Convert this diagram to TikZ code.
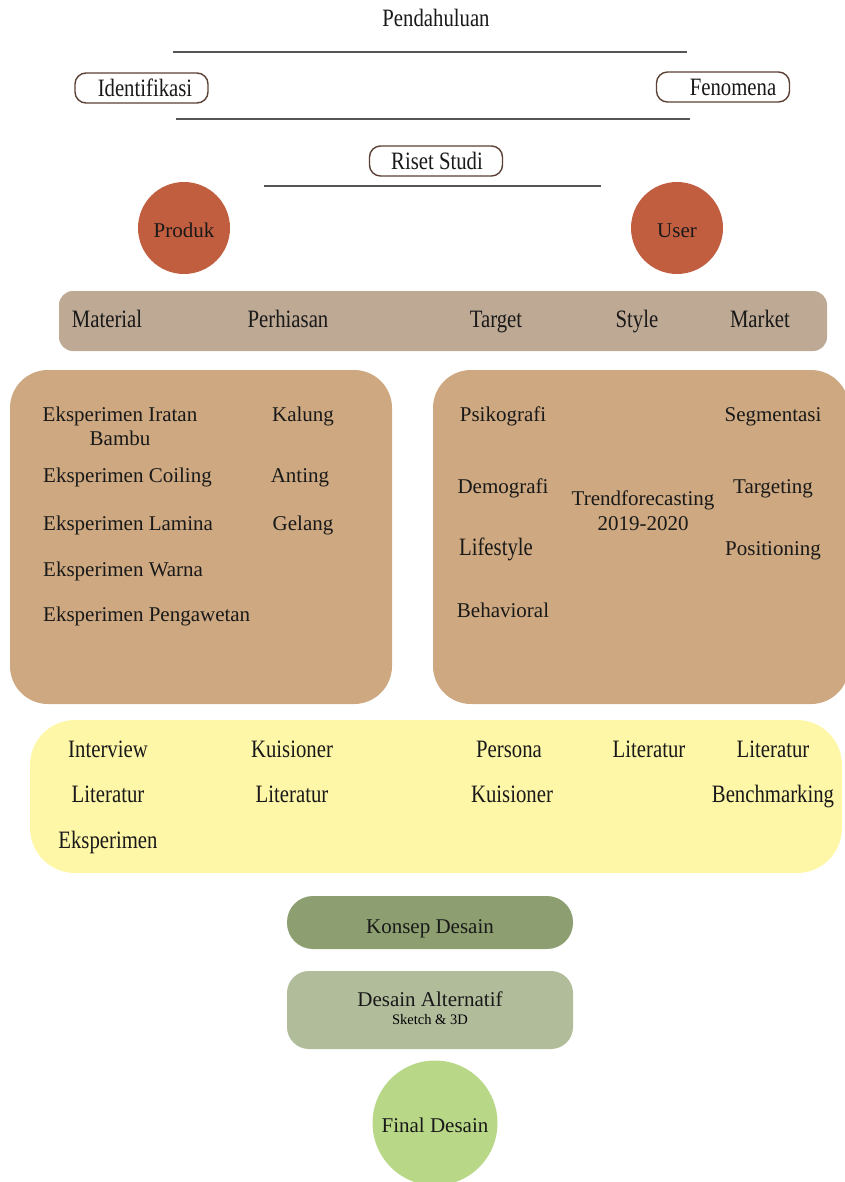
\documentclass[tikz,border=0pt]{standalone}
\usepackage{fontspec}
\setmainfont{Liberation Serif}
\newfontfamily\condfont[FakeStretch=0.83]{Liberation Serif}
\definecolor{lineGray}{HTML}{555555}
\definecolor{boxBorder}{HTML}{5B4035}
\definecolor{terra}{HTML}{C15E40}
\definecolor{taupe}{HTML}{BDA994}
\definecolor{tan}{HTML}{CDA880}
\definecolor{paleYellow}{HTML}{FFF7A8}
\definecolor{oliveDark}{HTML}{8D9F70}
\definecolor{oliveLight}{HTML}{B1BC9B}
\definecolor{limeGreen}{HTML}{B8D888}
\tikzset{
  sepline/.style={draw=lineGray, line width=2pt},
  tagbox/.style={draw=boxBorder, line width=1.4pt, rounded corners=11pt, fill=white,
    minimum width=133pt, minimum height=30pt, inner sep=0pt},
  ctext/.style={font=\condfont\fontsize{25}{28}\selectfont, inner sep=0pt, text=black!90,
    text height=17pt, text depth=5.5pt, yshift=-3pt},
  ntext/.style={font=\fontsize{21}{25}\selectfont, inner sep=0pt, text=black!90,
    text height=14.5pt, text depth=4.5pt, yshift=-2pt},
  ltext/.style={ntext, anchor=west},
  blob/.style={circle, inner sep=0pt},
}
\begin{document}
\begin{tikzpicture}[x=1pt,y=-1pt]
\useasboundingbox (0,0) rectangle (844,1182);
% top section
\node[ctext] (pend) at (436,18) {Pendahuluan};
\draw[sepline] (173,52) -- (687,52);
\node[tagbox] (identBox) at (141.5,88) {};
\node[ctext] (ident) at (145,88) {Identifikasi};
\node[tagbox] (fenBox) at (723,87) {};
\node[ctext] (fen) at (733,87) {Fenomena};
\draw[sepline] (176,119) -- (690,119);
\node[tagbox] (risetBox) at (436,161) {};
\node[ctext] (riset) at (437,161) {Riset Studi};
\draw[sepline] (264,186) -- (601,186);
% circles
\node[blob, fill=terra, minimum size=92pt] (produk) at (184,228) {};
\node[ntext] (produkT) at (184,231) {Produk};
\node[blob, fill=terra, minimum size=92pt] (user) at (677,228) {};
\node[ntext] (userT) at (677,231) {User};
% material bar
\fill[taupe, rounded corners=14pt] (59,291) rectangle (827,351);
\node[ctext] (material) at (107,319) {Material};
\node[ctext] (perhiasan) at (288,319) {Perhiasan};
\node[ctext] (target) at (496,319) {Target};
\node[ctext] (style) at (637,319) {Style};
\node[ctext] (market) at (760,319) {Market};
% left brown box
\fill[tan, rounded corners=38pt] (10,370) rectangle (392,704);
\node[ntext] (iratan) at (120,414) {Eksperimen Iratan};
\node[ntext] (bambu) at (120,438) {Bambu};
\node[ntext] (kalung) at (303,414) {Kalung};
\node[ltext] (coiling) at (43,475) {Eksperimen Coiling};
\node[ntext] (anting) at (300,475) {Anting};
\node[ltext] (lamina) at (43,523) {Eksperimen Lamina};
\node[ntext] (gelang) at (303,523) {Gelang};
\node[ltext] (warna) at (43,569) {Eksperimen Warna};
\node[ltext] (pengawetan) at (43,614) {Eksperimen Pengawetan};
% right brown box
\fill[tan, rounded corners=38pt] (433,370) rectangle (849,704);
\node[ntext] (psiko) at (503,414) {Psikografi};
\node[ntext] (segmen) at (773,414) {Segmentasi};
\node[ntext] (demo) at (503,486) {Demografi};
\node[ntext] (targeting) at (773,486) {Targeting};
\node[ntext] (trend) at (643,498) {Trendforecasting};
\node[ntext] (years) at (643,523) {2019-2020};
\node[ctext] (life) at (496,547) {Lifestyle};
\node[ntext] (posit) at (773,548) {Positioning};
\node[ntext] (behav) at (503,610) {Behavioral};
% yellow box
\fill[paleYellow, rounded corners=45pt] (30,720) rectangle (842,873);
\node[ctext] (interview) at (108,749) {Interview};
\node[ctext] (kuis1) at (292,749) {Kuisioner};
\node[ctext] (persona) at (509,749) {Persona};
\node[ctext] (lit1) at (649,749) {Literatur};
\node[ctext] (lit2) at (773,749) {Literatur};
\node[ctext] (lit3) at (108,794) {Literatur};
\node[ctext] (lit4) at (292,794) {Literatur};
\node[ctext] (kuis2) at (512,794) {Kuisioner};
\node[ctext] (bench) at (773,794) {Benchmarking};
\node[ctext] (eksp) at (108,840) {Eksperimen};
% bottom
\node[fill=oliveDark, rounded corners=26pt, minimum width=286pt, minimum height=53pt,
  inner sep=0pt] (konsep) at (430,922.5) {};
\node[ntext] (konsepT) at (430,926) {Konsep Desain};
\node[fill=oliveLight, rounded corners=22pt, minimum width=286pt, minimum height=78pt,
  inner sep=0pt] (alt) at (430,1010) {};
\node[ntext] (altT) at (430,999) {Desain Alternatif};
\node[inner sep=0pt, font=\fontsize{14.5}{17}\selectfont, text height=10pt, text depth=3pt,
  yshift=-1pt] (sketch) at (430,1020) {Sketch \& 3D};
\node[blob, fill=limeGreen, minimum size=125pt] (final) at (435,1123) {};
\node[ntext] (finalT) at (435,1125) {Final Desain};
\end{tikzpicture}
\end{document}
